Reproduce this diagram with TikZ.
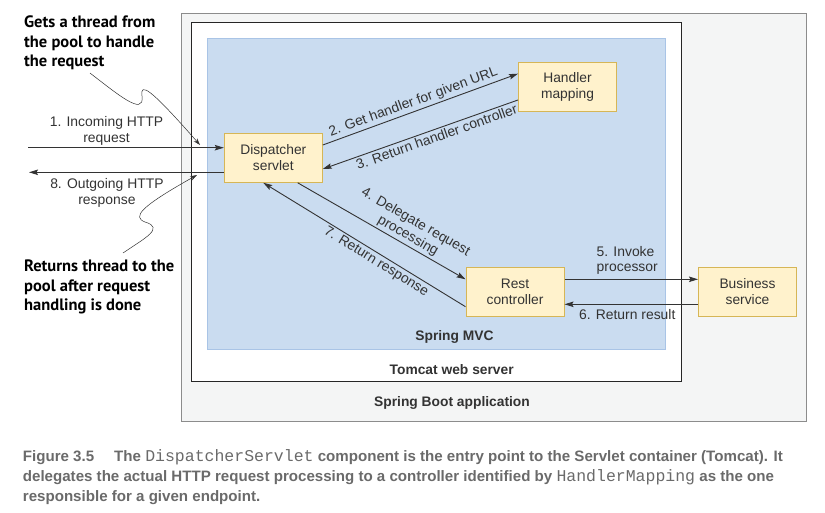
\documentclass[tikz,border=0pt]{standalone}
\usepackage{fontspec}
\setmainfont{Liberation Sans}
\newfontfamily\calloutfont{PT Sans}
\newfontfamily\captionfont{Liberation Sans}
\newfontfamily\codefont{Liberation Mono}
\usepackage{tikz}
\usetikzlibrary{arrows.meta, positioning}

\definecolor{bootfill}{HTML}{F4F5F5}
\definecolor{bootline}{HTML}{8C8C8C}
\definecolor{mvcfill}{HTML}{CADCF0}
\definecolor{mvcline}{HTML}{A9C4E6}
\definecolor{compfill}{HTML}{FFF2CC}
\definecolor{compline}{HTML}{D6B656}
\definecolor{ink}{HTML}{333333}
\definecolor{capgray}{HTML}{6A6A6A}

\begin{document}
\begin{tikzpicture}[x=1pt, y=-1pt]
  \useasboundingbox (0,0) rectangle (825,513);
  \begin{scope} [
    component/.style={draw=compline, fill=compfill, line width=1pt, minimum width=98pt,
      minimum height=49pt, align=center, text=ink, inner sep=0pt,
      font=\fontsize{13.8}{16}\selectfont},
    lbl/.style={text=ink, align=center, inner sep=2pt, font=\fontsize{13.9}{15.6}\selectfont},
    title/.style={text=ink, inner sep=0pt, font=\bfseries\fontsize{13.8}{15}\selectfont},
    flow/.style={draw=ink, line width=0.9pt, -{Stealth[length=9pt, width=5.5pt, inset=1.5pt]}},
    callout/.style={anchor=north west, align=left, inner sep=0pt,
      font=\calloutfont\bfseries\fontsize{16.5}{19.3}\selectfont},
    wiggle/.style={draw=ink, line width=0.5pt, -{Stealth[length=7pt, width=4.5pt]}},
    capline/.style={anchor=base west, inner sep=0pt, text=capgray,
      font=\captionfont\bfseries\fontsize{15.1}{20}\selectfont},
    code/.style={font=\codefont\mdseries\fontsize{16.5}{20}\selectfont}]

    %% *** Containers ***
    \draw[draw=bootline, fill=bootfill, line width=1pt] (181.3,13.3) rectangle (806.5,421.5);
    \draw[draw=black!85, fill=white, line width=1.5pt] (191.7,22.3) rectangle (681.7,381.3);
    \draw[draw=mvcline, fill=mvcfill, line width=1pt] (207.3,38.3) rectangle (665.7,349);
    \node[title] (mvclbl) at (454.5,336.7) {Spring MVC};
    \node[title] (tomcatlbl) at (451.7,370) {Tomcat web server};
    \node[title] (bootlbl) at (452,403) {Spring Boot application};

    %% *** Components ***
    \node[component] (disp) at (273.3,157.8) {Dispatcher\\servlet};
    \node[component] (hmap) at (567.5,87.3) {Handler\\mapping};
    \node[component] (rest) at (515,292) {Rest\\controller};
    \node[component] (biz) at (747.5,292) {Business\\service};
    \coordinate (in) at (28.3,147.7);
    \coordinate (out) at (29,172.3);

    %% *** Request flow ***
    \draw[flow] (in) -- node[lbl, above, pos=0.4] {1. Incoming HTTP\\request} ([yshift=10.1pt]disp.west);
    \draw[flow] ([yshift=12.8pt]disp.east) -- node[lbl, sloped, above, pos=0.48] {2. Get handler for given URL} ([yshift=13.6pt]hmap.west);
    \draw[flow] ([yshift=-12.7pt]hmap.west) -- node[lbl, sloped, below, pos=0.43] {3. Return handler controller} ([yshift=-11.2pt]disp.east);
    \draw[flow] ([xshift=24.4pt]disp.south) -- node[lbl, sloped, above, pos=0.63] {4. Delegate request\\processing} ([yshift=12.7pt]rest.west);
    \draw[flow] ([yshift=12.7pt]rest.east) -- node[lbl, above, align=left, pos=0.47, yshift=2pt] {5. Invoke\\processor} ([yshift=12.7pt]biz.west);
    \draw[flow] ([yshift=-12.3pt]biz.west) -- node[lbl, below, pos=0.53, yshift=-3pt] {6. Return result} ([yshift=-12.3pt]rest.east);
    \draw[flow] ([yshift=-14.7pt]rest.west) -- node[lbl, sloped, below, pos=0.42] {7. Return response} ([xshift=-10pt]disp.south);
    \draw[flow] ([yshift=-14.5pt]disp.west) -- node[lbl, below, pos=0.6, yshift=-4pt] {8. Outgoing HTTP\\response} (out);

    %% *** Callouts ***
    \node[callout] (gets) at (24,16) {Gets a thread from\\the pool to handle\\the request};
    \node[callout] (ret) at (24,260) {Returns thread to the\\pool after request\\handling is done};
    \coordinate (getstip) at (200,145);
    \coordinate (rettip) at (197,175);
    \draw[wiggle] ([xshift=66pt, yshift=-3pt]gets.south west) .. controls (115,92) and (145,118) .. (142,96)
      .. controls (140,82) and (150,88) .. (getstip);
    \draw[wiggle] ([xshift=99pt, yshift=7pt]ret.north west) .. controls (145,238) and (165,228) .. (145,222)
      .. controls (132,217) and (140,207) .. (rettip);

    %% *** Caption ***
    \node[capline] (cap1) at (22.7,461.2) {Figure 3.5\hspace{20pt}The {\codefont\mdseries\fontsize{16.5}{20}\selectfont DispatcherServlet} component is the entry point to the Servlet container (Tomcat). It};
    \node[capline] (cap2) at (22.7,481.5) {delegates the actual HTTP request processing to a controller identified by {\codefont\mdseries\fontsize{16.5}{20}\selectfont HandlerMapping} as the one};
    \node[capline] (cap3) at (22.7,501.8) {responsible for a given endpoint.};
  \end{scope}
\end{tikzpicture}
\end{document}
